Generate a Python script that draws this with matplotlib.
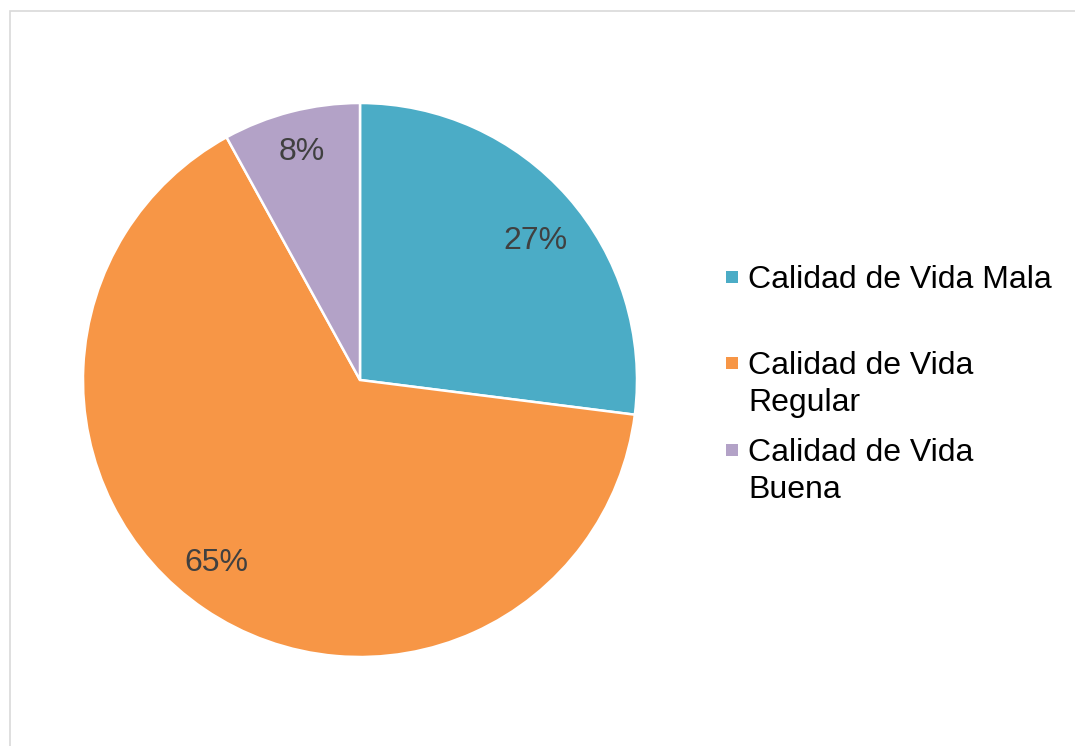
import numpy as np
import matplotlib.pyplot as plt
from matplotlib.patches import Rectangle

labels = ['Calidad de Vida Mala', 'Calidad de Vida\nRegular', 'Calidad de Vida\nBuena']
values = [27, 65, 8]
colors = ['#4BACC6', '#F79646', '#B3A2C7']

plt.rcParams['font.family'] = ['Liberation Sans', 'DejaVu Sans']

W, H = 1075, 746
fig = plt.figure(figsize=(W / 100, H / 100), dpi=100)

# light grey frame of the chart area (runs off the right and bottom edges)
fig.patches.append(Rectangle((9.5 / W, -0.1), 1.2, 1 - 10.5 / H + 0.1,
                             transform=fig.transFigure, fill=False,
                             edgecolor='#D9D9D9', linewidth=1.2))

cx, cy, r = 360, 380, 277
ax = fig.add_axes([(cx - r) / W, (H - cy - r) / H, 2 * r / W, 2 * r / H])
wedges, texts, autotexts = ax.pie(values, colors=colors, startangle=90,
                                  counterclock=False, radius=1,
                                  autopct='%1.0f%%', pctdistance=0.83,
                                  wedgeprops=dict(edgecolor='white', linewidth=1.8),
                                  textprops=dict(fontsize=23, color='#404040'))
# excel-like label placement: nudge distance/angle a bit per slice
dist = [0.81, 0.84, 0.85]
dang = [-3, -4, 0]
for w, t, d, da in zip(wedges, autotexts, dist, dang):
    a = np.deg2rad((w.theta1 + w.theta2) / 2 + da)
    t.set_position((d * np.cos(a), d * np.sin(a)))
ax.set_xlim(-1.0, 1.0)
ax.set_ylim(-1.0, 1.0)
ax.set_aspect('equal')

# legend drawn by hand: entries aligned at top, two lines of room each
tops = [277, 363, 450]
for lab, col, y in zip(labels, colors, tops):
    fig.patches.append(Rectangle((726 / W, 1 - (y + 6) / H), 12 / W, 12 / H,
                                 transform=fig.transFigure, facecolor=col,
                                 edgecolor='none'))
    fig.text(748 / W, 1 - (y - 12) / H, lab, fontsize=23, color='black',
             va='top', ha='left', linespacing=1.32)

fig.savefig('out.png', dpi=100)
